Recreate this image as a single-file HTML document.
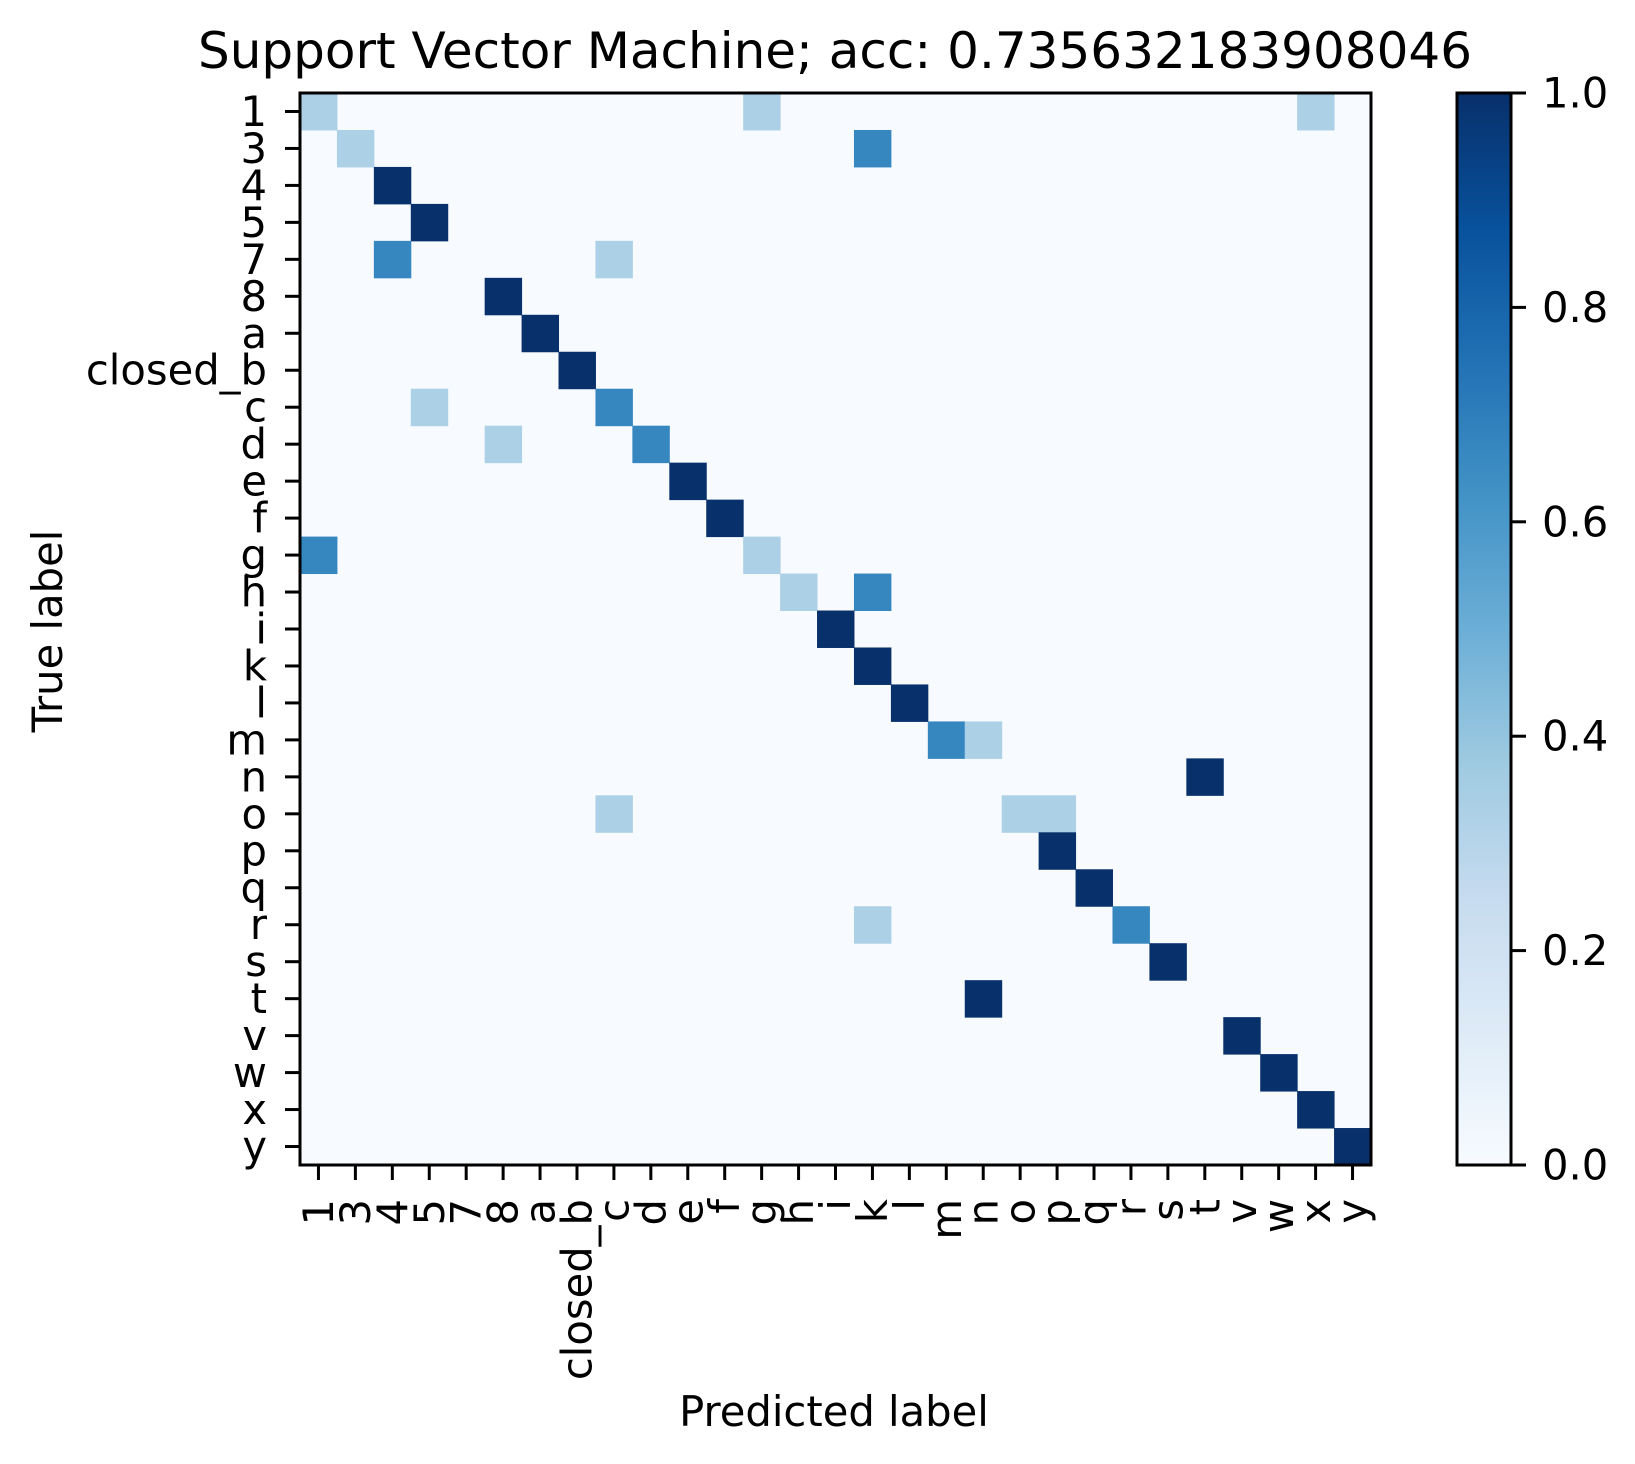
<!DOCTYPE html>
<html><head><meta charset="utf-8"><title>SVM confusion matrix</title>
<style>html,body{margin:0;padding:0;background:#fff;}svg{display:block;font-family:"DejaVu Sans","Liberation Sans",sans-serif;}</style>
</head><body>
<svg id="chart" width="1635" height="1464" viewBox="0 0 1635 1464" xmlns="http://www.w3.org/2000/svg">
<defs><linearGradient id="cbgrad" x1="0" y1="1" x2="0" y2="0">
<stop offset="0" stop-color="#f7fbff"/><stop offset="0.125" stop-color="#deebf7"/><stop offset="0.25" stop-color="#c6dbef"/><stop offset="0.375" stop-color="#9ecae1"/><stop offset="0.5" stop-color="#6baed6"/><stop offset="0.625" stop-color="#4292c6"/><stop offset="0.75" stop-color="#2171b5"/><stop offset="0.875" stop-color="#08519c"/><stop offset="1" stop-color="#08306b"/>
</linearGradient></defs>
<text x="835" y="68" font-size="50" text-anchor="middle">Support Vector Machine; acc: 0.735632183908046</text>
<g id="cells"></g>
<g id="axes"></g>
<text x="834" y="1426" font-size="41.7" text-anchor="middle">Predicted label</text>
<text x="0" y="0" font-size="41.7" text-anchor="middle" transform="translate(62,631) rotate(-90)">True label</text>
<rect x="1457" y="93" width="54" height="1072" fill="url(#cbgrad)" stroke="#000" stroke-width="3"/>
<g id="cbticks"></g>
</svg>
<script>
const labels = ["1","3","4","5","7","8","a","closed_b","c","d","e","f","g","h","i","k","l","m","n","o","p","q","r","s","t","v","w","x","y"];
// nonzero entries: [row, col, value]
const rowIdx = [0,0,0, 1,1, 2, 3, 4,4, 5, 6, 7, 8,8, 9,9, 10, 11, 12,12, 13,13, 14, 15, 16, 17,17, 18, 19,19,19, 20, 21, 22,22, 23, 24, 25, 26, 27, 28];
const colIdx = [0,12,27, 1,15, 2, 3, 2,8, 5, 6, 7, 3,8, 5,9, 10, 11, 0,12, 13,15, 14, 15, 16, 17,18, 24, 8,19,20, 20, 21, 15,22, 23, 18, 25, 26, 27, 28];
const vals   = [0.33,0.33,0.33, 0.33,0.67, 1, 1, 0.67,0.33, 1, 1, 1, 0.33,0.67, 0.33,0.67, 1, 1, 0.67,0.33, 0.33,0.67, 1, 1, 1, 0.67,0.33, 1, 0.33,0.33,0.33, 1, 1, 0.33,0.67, 1, 1, 1, 1, 1, 1];
const cbTicks = [0,0.2,0.4,0.6,0.8,1.0];
const cbTickLabels = ["0.0","0.2","0.4","0.6","0.8","1.0"];

const NS="http://www.w3.org/2000/svg";
const L=300, R=1371, T=93, B=1165, N=labels.length;
const cw=(R-L)/N, ch=(B-T)/N;
const xPos=i=>L+i*cw, yPos=i=>T+i*ch;
const cbY=v=>B - v*(B-T);
const stops=[[0,[247,251,255]],[0.125,[222,235,247]],[0.25,[198,219,239]],[0.375,[158,202,225]],[0.5,[107,174,214]],[0.625,[66,146,198]],[0.75,[33,113,181]],[0.875,[8,81,156]],[1,[8,48,107]]];
function blues(v){for(let i=0;i<stops.length-1;i++){const[a,ca]=stops[i],[b,cb]=stops[i+1];if(v<=b){const t=(v-a)/(b-a);return"rgb("+ca.map((c,k)=>Math.round(c+(cb[k]-c)*t)).join(",")+")";}}return"rgb(8,48,107)";}
function mk(tag,attrs,parent){const e=document.createElementNS(NS,tag);for(const k in attrs)e.setAttribute(k,attrs[k]);parent.appendChild(e);return e;}

const cells=document.getElementById('cells');
const bg=mk('rect',{x:L,y:T,width:R-L,height:B-T,fill:blues(0)},cells);


for(let i=0;i<vals.length;i++){
  const r=mk('rect',{x:xPos(colIdx[i]),y:yPos(rowIdx[i]),width:cw+0.5,height:ch+0.5,fill:blues(vals[i])},cells);
  
  
}
const axes=document.getElementById('axes');
const frame=mk('rect',{x:L,y:T,width:R-L,height:B-T,fill:'none',stroke:'#000','stroke-width':3},axes);


for(let i=0;i<N;i++){
  const cy=yPos(i)+ch/2, cx=xPos(i)+cw/2;
  const yt=mk('line',{x1:L-15,x2:L,y1:cy,y2:cy,stroke:'#000','stroke-width':3},axes);
  
  
  const yl=mk('text',{x:267,y:cy,'font-size':41.7,'text-anchor':'end','dominant-baseline':'central'},axes);
  yl.textContent=labels[i];
  
  
  const xt=mk('line',{x1:cx,x2:cx,y1:B,y2:B+15,stroke:'#000','stroke-width':3},axes);
  
  
  const xl=mk('text',{x:0,y:0,'font-size':41.7,'text-anchor':'end','dominant-baseline':'central',transform:'translate('+cx+',1199) rotate(-90)'},axes);
  xl.textContent=labels[i];
  
  
}
const cbt=document.getElementById('cbticks');
for(let i=0;i<cbTicks.length;i++){
  const y=cbY(cbTicks[i]);
  const t=mk('line',{x1:1511,x2:1526,y1:y,y2:y,stroke:'#000','stroke-width':3},cbt);
  
  
  const tl=mk('text',{x:1542,y:y,'font-size':41.7,'dominant-baseline':'central'},cbt);
  tl.textContent=cbTickLabels[i];
  
  
}
</script>
</body></html>
